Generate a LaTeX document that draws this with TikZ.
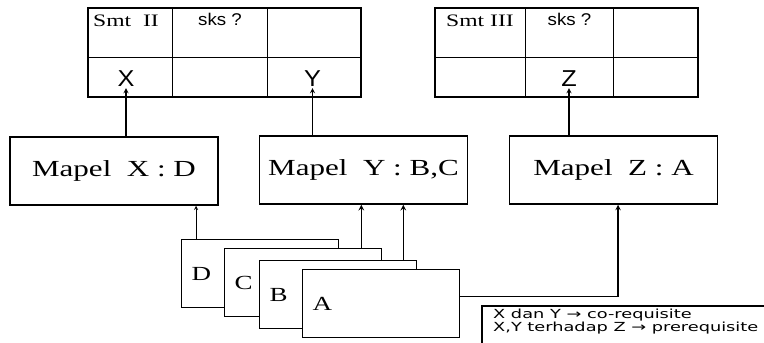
\documentclass[tikz,border=0pt]{standalone}
\usepackage{fontspec}
\setmainfont{Liberation Serif}
\newfontfamily\serifw[FakeStretch=1.35]{Liberation Serif}
\newfontfamily\sansw[FakeStretch=1.1]{Liberation Sans}
\newfontfamily\legendw[FakeStretch=1.42]{DejaVu Sans}
\usetikzlibrary{shapes.geometric, arrows, calc, positioning}
\tikzstyle{cell} = [rectangle, draw=black, line width=1pt, anchor=north west, inner sep=0pt]
\tikzstyle{frame} = [draw=black, line width=2.4pt]
\tikzstyle{smt} = [anchor=base west, inner sep=0pt, font=\serifw\fontsize{17.5}{20}\selectfont]
\tikzstyle{sks} = [anchor=base, inner sep=0pt, font=\sansw\fontsize{17}{20}\selectfont]
\tikzstyle{letter} = [anchor=base, inner sep=2pt, font=\sansw\fontsize{23}{26}\selectfont]
\tikzstyle{mapel} = [rectangle, line width=1.5pt, minimum width=208pt, minimum height=68pt, text centered, draw=black, font=\serifw\fontsize{23}{26}\selectfont]
\tikzstyle{card} = [rectangle, line width=1.3pt, fill=white, draw=black, anchor=north west, minimum height=68pt, text width=137pt, inner xsep=10pt, align=left, font=\serifw\fontsize{20}{24}\selectfont]
\tikzstyle{legend} = [anchor=north west, inner xsep=11pt, inner ysep=3pt, align=left, font=\legendw\fontsize{12.5}{13}\selectfont]
\tikzstyle{arrow} = [line width=1.2pt,->,>=stealth]

\begin{document}
\begin{tikzpicture}[x=1pt, y=-1pt]
	\useasboundingbox (0,0) rectangle (764,343);
	\coordinate (Edge) at (764,343);
	% semester tables
	\foreach \n/\x/\y/\w/\h in {L11/88/8/84/49, L12/172/8/95/49, L13/267/8/93/49, L21/88/57/84/39, L22/172/57/95/39, L23/267/57/93/39, R11/435/8/90/49, R12/525/8/88/49, R13/613/8/84/49, R21/435/57/90/39, R22/525/57/88/39, R23/613/57/84/39}
		\node[cell, minimum width=\w pt, minimum height=\h pt] (\n) at (\x,\y) {};
	\draw[frame] (L11.north west) rectangle (L23.south east);
	\draw[frame] (R11.north west) rectangle (R23.south east);
	\node[smt] (SmtII) at ($(L11.north west)+(5,18)$) {Smt\ \ II};
	\node[sks] (SksII) at ($(L12.north)+(0,17)$) {sks ?};
	\node[smt] (SmtIII) at ($(R11.north west)+(11,18)$) {Smt III};
	\node[sks] (SksIII) at ($(R12.north)+(0,17)$) {sks ?};
	\node[letter] (X) at ($(L21.south)+(-4.5,-11)$) {X};
	\node[letter] (Y) at ($(L23.south)+(-1.5,-11)$) {Y};
	\node[letter] (Z) at ($(R22.south)+(-0.5,-11)$) {Z};
	% mata pelajaran
	\node[mapel] (MapelX) at (114,171) {Mapel\ \ X : D};
	\node[mapel] (MapelY) at (363.5,170) {Mapel\ \ Y : B,C};
	\node[mapel] (MapelZ) at (613.5,170) {Mapel\ \ Z : A};
	% stacked cards
	\node[card] (CardD) at (181,239) {D};
	\node[card] (CardC) at (224,248) {C};
	\node[card] (CardB) at (259,260) {B};
	\node[card] (CardA) at (302,269) {A};
	\coordinate (Dtop) at ([xshift=15pt]CardD.north west);
	\coordinate (Ctop) at ([xshift=-21pt]CardC.north east);
	\coordinate (Btop) at ([xshift=-14pt]CardB.north east);
	\coordinate (Aout) at ([yshift=7pt]CardA.east);
	\coordinate (Zin) at ([xshift=4.5pt]MapelZ.south);
	\draw [arrow] (MapelX.north -| X) -- (X.south);
	\draw [arrow] (MapelY.north -| Y) -- (Y.south);
	\draw [arrow] (MapelZ.north -| Z) -- (Z.south);
	\draw [arrow, line width=0.9pt] (Dtop) -- (Dtop |- MapelX.south);
	\draw [arrow, line width=1.5pt] (Ctop) -- (Ctop |- MapelY.south);
	\draw [arrow, line width=1.5pt] (Btop) -- (Btop |- MapelY.south);
	\draw [arrow, line width=1.4pt] (Aout) -| (Zin);
	\node[legend] (Legend) at (482,306) {X dan Y → co-requisite\\X,Y terhadap Z → prerequisite};
	\draw [line width=1.2pt] (Legend.north west |- Edge) -- (Legend.north west) -- (Legend.north west -| Edge);
\end{tikzpicture}
\end{document}
